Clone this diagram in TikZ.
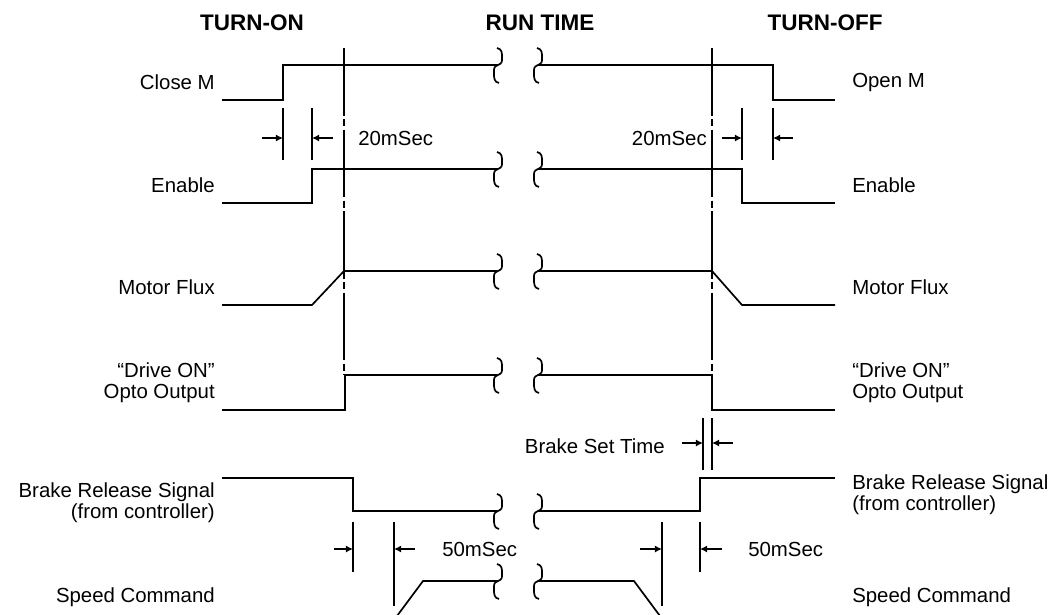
\documentclass[tikz,border=0pt]{standalone}
\usepackage{fontspec}
\setmainfont{Liberation Sans}
\usepackage{tikz}
\usetikzlibrary{arrows.meta}
\newcommand{\runbreak}[2]{\draw[sig,line width=1.2pt] (#1-1,#2-17) .. controls (#1+4,#2-16) and (#1+4,#2-12) .. (#1+4,#2-8) .. controls (#1+4,#2-2) .. (#1,#2) .. controls (#1-4,#2+2) .. (#1-4,#2+8) .. controls (#1-4,#2+13) and (#1-4,#2+17) .. (#1+1,#2+18);}

\begin{document}
\begin{tikzpicture}[x=0.025cm,y=-0.025cm,>={Latex[length=5pt,width=5pt]},line cap=butt,
  sig/.style={line width=1.2pt},
  tick/.style={line width=0.9pt},
  thicktick/.style={line width=2pt},
  dim/.style={->,line width=1pt},
  vmark/.style={line width=1pt,dash pattern=on 48pt off 2.5pt on 5pt off 2.5pt},
  lbl/.style={inner sep=0pt,font=\fontsize{14.5}{15}\selectfont},
  ttl/.style={inner sep=0pt,font=\fontsize{16}{18}\selectfont\bfseries}]
\useasboundingbox (0,0) rectangle (1056,614);
\node[ttl] (tOn) at (252,23) {TURN-ON};
\node[ttl] (tRun) at (540,23) {RUN TIME};
\node[ttl] (tOff) at (825,23) {TURN-OFF};
\node[lbl,anchor=east] (lClose) at (215,82) {Close M};
\node[lbl,anchor=east] (lEnable) at (215,185) {Enable};
\node[lbl,anchor=east] (lFlux) at (215,287) {Motor Flux};
\node[lbl,anchor=east,align=right] (lDrive) at (215,383) {“Drive ON”\\Opto Output};
\node[lbl,anchor=east,align=right] (lBrake) at (215,503) {Brake Release Signal\\(from controller)};
\node[lbl,anchor=east] (lSpeed) at (215,597) {Speed Command};
\node[lbl,anchor=west] (rOpen) at (852,82) {Open M};
\node[lbl,anchor=west] (rEnable) at (852,185) {Enable};
\node[lbl,anchor=west] (rFlux) at (852,287) {Motor Flux};
\node[lbl,anchor=west,align=left] (rDrive) at (852,383) {“Drive ON”\\Opto Output};
\node[lbl,anchor=west,align=left] (rBrake) at (852,495) {Brake Release Signal\\(from controller)};
\node[lbl,anchor=west] (rSpeed) at (852,597) {Speed Command};
\node[lbl,anchor=west] (dOn) at (358,138) {20mSec};
\node[lbl,anchor=east] (dOff) at (707,138) {20mSec};
\node[lbl,anchor=west] (fOn) at (442,549) {50mSec};
\node[lbl,anchor=west] (fOff) at (748,549) {50mSec};
\node[lbl,anchor=east] (bSet) at (665,446) {Brake Set Time};
\draw[vmark] (344,48) -- (344,375);
\draw[vmark] (712,48) -- (712,375);
\draw[sig] (222,100) -- (283,100) -- (283,65) -- (498,65);
\draw[sig] (538,65) -- (773,65) -- (773,100) -- (835,100);
\draw[sig] (222,203) -- (312,203) -- (312,169) -- (498,169);
\draw[sig] (538,169) -- (742,169) -- (742,203) -- (835,203);
\draw[sig] (222,305) -- (312,305) -- (344,271) -- (498,271);
\draw[sig] (538,271) -- (712,271) -- (742,305) -- (835,305);
\draw[sig] (222,410) -- (345,410) -- (345,375) -- (498,375);
\draw[sig] (538,375) -- (712,375) -- (712,410) -- (835,410);
\draw[sig] (222,478) -- (353,478) -- (353,511) -- (498,511);
\draw[sig] (538,511) -- (700,511) -- (700,478) -- (835,478);
\draw[sig] (397,616) -- (423,581) -- (498,581);
\draw[sig] (538,581) -- (634,581) -- (660,616);
\foreach \y in {65,169,271,375,511,581} {
  \runbreak{498}{\y}
  \runbreak{538}{\y}
}
\draw[tick] (283,108) -- (283,160);
\draw[tick] (312,108) -- (312,160);
\draw[dim] (262,138) -- (283,138);
\draw[dim] (333,138) -- (312,138);
\draw[tick] (742,108) -- (742,160);
\draw[tick] (773,108) -- (773,160);
\draw[dim] (722,138) -- (742,138);
\draw[dim] (793,138) -- (773,138);
\draw[thicktick] (703,418) -- (703,470);
\draw[tick] (712,418) -- (712,470);
\draw[dim] (682,443) -- (703,443);
\draw[dim] (733,443) -- (712,443);
\draw[thicktick] (353,522) -- (353,572);
\draw[tick] (394,522) -- (394,606);
\draw[dim] (334,549) -- (353,549);
\draw[dim] (415,549) -- (394,549);
\draw[tick] (662,522) -- (662,606);
\draw[tick] (700,522) -- (700,572);
\draw[dim] (640,549) -- (662,549);
\draw[dim] (722,549) -- (700,549);
\end{tikzpicture}
\end{document}
